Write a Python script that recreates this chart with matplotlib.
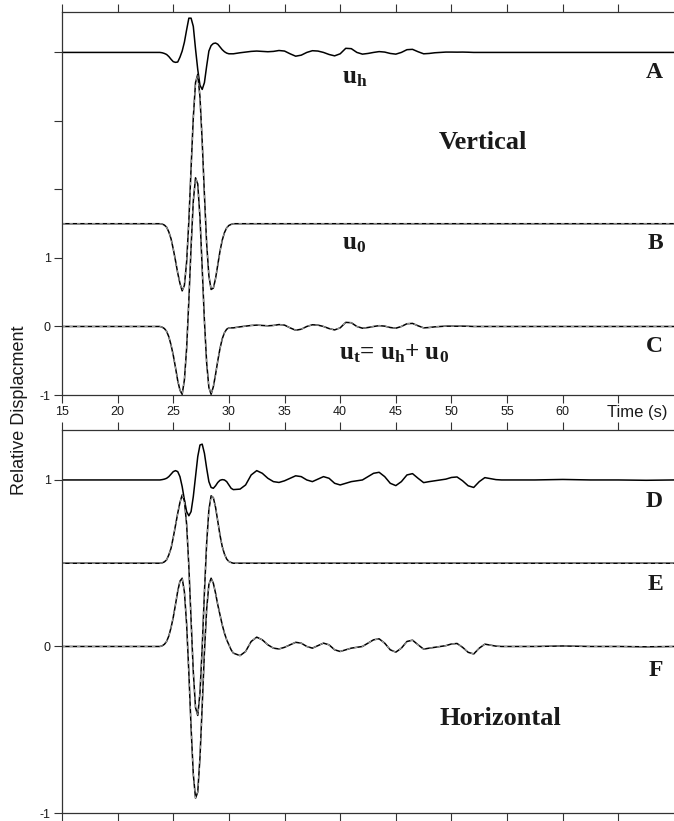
import matplotlib
matplotlib.use('Agg')
import matplotlib.pyplot as plt
import numpy as np

plt.rcParams['font.family'] = ['Liberation Sans', 'DejaVu Sans']
plt.rcParams['axes.unicode_minus'] = False
plt.rcParams['mathtext.fontset'] = 'custom'
plt.rcParams['mathtext.rm'] = 'Liberation Serif:bold'
plt.rcParams['mathtext.it'] = 'Liberation Serif:bold'
plt.rcParams['mathtext.bf'] = 'Liberation Serif:bold'

# ---------------- data ----------------
t_lead = [15.0, 20.0, 23.0]
t_pulse = [23.6, 23.8, 24.0, 24.2, 24.4, 24.6, 24.8, 25.0, 25.2, 25.4, 25.6, 25.8,
           26.0, 26.2, 26.4, 26.6, 26.8, 27.0, 27.2, 27.4, 27.6, 27.8, 28.0, 28.2,
           28.4, 28.6, 28.8, 29.0, 29.2, 29.4, 29.6, 29.8, 30.0, 30.2, 30.4]
t_tail = [31.0, 31.5, 32.0, 32.5, 33.0, 33.5, 34.0, 34.5, 35.0, 35.5, 36.0, 36.5,
          37.0, 37.5, 38.0, 38.5, 39.0, 39.5, 40.0, 40.5, 41.0, 41.5, 42.0, 42.5,
          43.0, 43.5, 44.0, 44.5, 45.0, 45.5, 46.0, 46.5, 47.0, 47.5, 48.0, 48.5,
          49.0, 49.5, 50.0, 50.5, 51.0, 51.5, 52.0, 52.5, 53.0, 53.5, 54.0, 54.5,
          55.0, 57.5, 60.0, 62.5, 65.0, 67.5, 70.0]

lead_vals = [0.0, 0.0, 0.0]

# Vertical component
uh_vert_pulse = [0.0, 0.0, -0.005, -0.015, -0.03, -0.06, -0.10, -0.135, -0.145, -0.14,
                 -0.07, 0.02, 0.15, 0.33, 0.50, 0.50, 0.38, 0.05, -0.25, -0.48, -0.54,
                 -0.44, -0.20, 0.02, 0.10, 0.13, 0.137, 0.12, 0.08, 0.04, 0.01, -0.01,
                 -0.02, -0.02, -0.02]
uh_vert_tail = [-0.005, 0.005, 0.015, 0.02, 0.015, 0.01, 0.015, 0.028, 0.02, -0.02,
                -0.055, -0.04, 0.0, 0.025, 0.02, 0.0, -0.03, -0.05, -0.02, 0.06, 0.055,
                0.0, -0.025, -0.015, 0.0, 0.012, 0.005, -0.015, -0.025, 0.0, 0.04, 0.045,
                0.01, -0.02, -0.015, -0.005, 0.0, 0.005, 0.005, 0.004, 0.005, 0.003, 0.0,
                0.0, 0.0, 0.0, 0.0, 0.0, 0.0, 0.0, 0.0, 0.0, 0.0, 0.0, 0.0]
u0_vert_pulse = [0.0, 0.0, -0.005, -0.02, -0.05, -0.12, -0.22, -0.37, -0.54, -0.72,
                 -0.87, -0.98, -0.90, -0.56, 0.04, 0.81, 1.55, 2.06, 2.18, 1.85, 1.20,
                 0.42, -0.29, -0.76, -0.96, -0.94, -0.80, -0.60, -0.40, -0.24, -0.13,
                 -0.06, -0.025, -0.01, 0.0]
ut_vert_pulse = [0.0, 0.0, -0.01, -0.03, -0.07, -0.15, -0.27, -0.42, -0.60, -0.79,
                 -0.93, -0.99, -0.78, -0.32, 0.38, 1.16, 1.83, 2.17, 2.08, 1.59, 0.85,
                 0.08, -0.53, -0.89, -0.99, -0.88, -0.70, -0.50, -0.32, -0.18, -0.09,
                 -0.04, -0.02, -0.02, -0.02]

# Horizontal component
uh_horz_pulse = [0.0, 0.0, 0.002, 0.005, 0.01, 0.02, 0.035, 0.05, 0.056, 0.05, 0.02,
                 -0.04, -0.12, -0.19, -0.215, -0.19, -0.10, 0.02, 0.14, 0.21, 0.215,
                 0.16, 0.07, -0.01, -0.045, -0.05, -0.035, -0.015, -0.002, 0.002, 0.0,
                 -0.01, -0.03, -0.05, -0.058]
uh_horz_tail = [-0.055, -0.03, 0.03, 0.056, 0.04, 0.01, -0.01, -0.015, -0.005, 0.01,
                0.025, 0.02, 0.0, -0.01, 0.005, 0.02, 0.01, -0.02, -0.03, -0.02, -0.01,
                -0.005, 0.0, 0.02, 0.04, 0.046, 0.02, -0.02, -0.034, -0.01, 0.03, 0.038,
                0.01, -0.016, -0.01, -0.005, 0.0, 0.005, 0.015, 0.018, -0.005, -0.035,
                -0.045, -0.01, 0.014, 0.008, 0.002, 0.0, 0.0, 0.0, 0.003, 0.0, 0.0,
                -0.002, 0.0]
u0_horz_pulse = [0.0, 0.0, 0.002, 0.008, 0.02, 0.05, 0.09, 0.155, 0.227, 0.30, 0.365,
                 0.41, 0.376, 0.234, -0.018, -0.34, -0.653, -0.867, -0.914, -0.778,
                 -0.503, -0.174, 0.12, 0.32, 0.405, 0.394, 0.336, 0.252, 0.168, 0.10,
                 0.055, 0.025, 0.01, 0.004, 0.0]
ut_horz_pulse = [0.0, 0.0, 0.004, 0.013, 0.03, 0.063, 0.113, 0.176, 0.252, 0.332, 0.392,
                 0.41, 0.328, 0.134, -0.158, -0.487, -0.767, -0.911, -0.874, -0.667,
                 -0.357, -0.033, 0.224, 0.372, 0.41, 0.38, 0.32, 0.25, 0.19, 0.13, 0.08,
                 0.04, 0.01, -0.02, -0.04]

zero_tail = [0.0] * len(t_tail)

time = np.array(t_lead + t_pulse + t_tail)
uh_vert = np.array(lead_vals + uh_vert_pulse + uh_vert_tail)
u0_vert = np.array(lead_vals + u0_vert_pulse + zero_tail)
ut_vert = np.array(lead_vals + ut_vert_pulse + uh_vert_tail)
uh_horz = np.array(lead_vals + uh_horz_pulse + uh_horz_tail)
u0_horz = np.array(lead_vals + u0_horz_pulse + zero_tail)
ut_horz = np.array(lead_vals + ut_horz_pulse + uh_horz_tail)

# trace offsets (layout)
off_A, off_B, off_C = 4.0, 1.5, 0.0
off_D, off_E, off_F = 1.0, 0.5, 0.0

x_ticks = [15, 20, 25, 30, 35, 40, 45, 50, 55, 60, 65]
x_labels = ['15', '20', '25', '30', '35', '40', '45', '50', '55', '60', '']

# ---------------- figure ----------------
W, H = 674, 821
fig = plt.figure(figsize=(W / 100, H / 100), dpi=100)

ax1 = fig.add_axes([62 / W, 1 - 395 / H, 1 - 62 / W, 383 / H])
ax2 = fig.add_axes([62 / W, 1 - 813 / H, 1 - 62 / W, 383 / H])

lw = 1.1
kc = 'black'
dc = '0.72'
dls = (0, (4, 5))

ax1.plot(time, uh_vert + off_A, color=kc, lw=lw)
ax1.plot(time, u0_vert + off_B, color=kc, lw=lw)
ax1.plot(time, u0_vert + off_B, color=dc, lw=0.6, ls=dls)
ax1.plot(time, ut_vert + off_C, color=kc, lw=lw)
ax1.plot(time, ut_vert + off_C, color=dc, lw=0.6, ls=dls)

ax2.plot(time, uh_horz + off_D, color=kc, lw=lw)
ax2.plot(time, u0_horz + off_E, color=kc, lw=lw)
ax2.plot(time, u0_horz + off_E, color=dc, lw=0.6, ls=dls)
ax2.plot(time, ut_horz + off_F, color=kc, lw=lw)
ax2.plot(time, ut_horz + off_F, color=dc, lw=0.6, ls=dls)

ax1.set_xlim(15, 70)
ax1.set_ylim(-1, 4.59)
ax2.set_xlim(15, 70)
ax2.set_ylim(-1, 1.3)

for ax in (ax1, ax2):
    ax.spines['right'].set_visible(False)
    for s in ('left', 'top', 'bottom'):
        ax.spines[s].set_linewidth(0.9)
        ax.spines[s].set_color('0.2')
    ax.set_xticks(x_ticks)
    ax.tick_params(axis='both', direction='out', length=6, width=0.8,
                   color='0.2', labelsize=9, pad=2, top=True, bottom=True,
                   labelcolor='#1a1a1a')

ax1.set_xticklabels(x_labels)
ax1.tick_params(axis='x', labelbottom=True, labeltop=False)
ax1.set_yticks([-1, 0, 1, 2, 3, 4])
ax1.set_yticklabels(['-1', '0', '1', '', '', ''])

ax2.tick_params(axis='x', labelbottom=False, labeltop=False)
ax2.set_yticks([-1, 0, 1])
ax2.set_yticklabels(['-1', '0', '1'])

serif = dict(family='Liberation Serif', weight='bold', color='#1a1a1a')

ax1.text(40.16, 3.55, r'$\mathrm{u_h}$', fontsize=18, ha='left', va='baseline', **serif)
ax1.text(40.16, 1.12, r'$\mathrm{u_0}$', fontsize=18, ha='left', va='baseline', **serif)
ax1.text(39.9, -0.475, r'$\mathrm{u_t}$= $\mathrm{u_h}$+ $\mathrm{u_0}$', fontsize=18,
         ha='left', va='baseline', **serif)
ax1.text(69.0, 3.62, 'A', fontsize=17, ha='right', va='baseline', **serif)
ax1.text(69.0, 1.13, 'B', fontsize=17, ha='right', va='baseline', **serif)
ax1.text(69.0, -0.37, 'C', fontsize=17, ha='right', va='baseline', **serif)
ax1.text(52.86, 2.59, 'Vertical', fontsize=19, ha='center', va='baseline', **serif)

ax2.text(69.0, 0.836, 'D', fontsize=17, ha='right', va='baseline', **serif)
ax2.text(69.0, 0.34, 'E', fontsize=17, ha='right', va='baseline', **serif)
ax2.text(69.0, -0.18, 'F', fontsize=17, ha='right', va='baseline', **serif)
ax2.text(54.4, -0.47, 'Horizontal', fontsize=19, ha='center', va='baseline', **serif)

fig.text(606.7 / W, 1 - 413 / H, 'Time (s)', fontsize=12, ha='left', va='center',
         color='#1a1a1a')
fig.text(20 / W, 0.5, 'Relative Displacment', fontsize=13, rotation=90,
         ha='center', va='center', color='#1a1a1a')

fig.savefig('out.png', dpi=100)
